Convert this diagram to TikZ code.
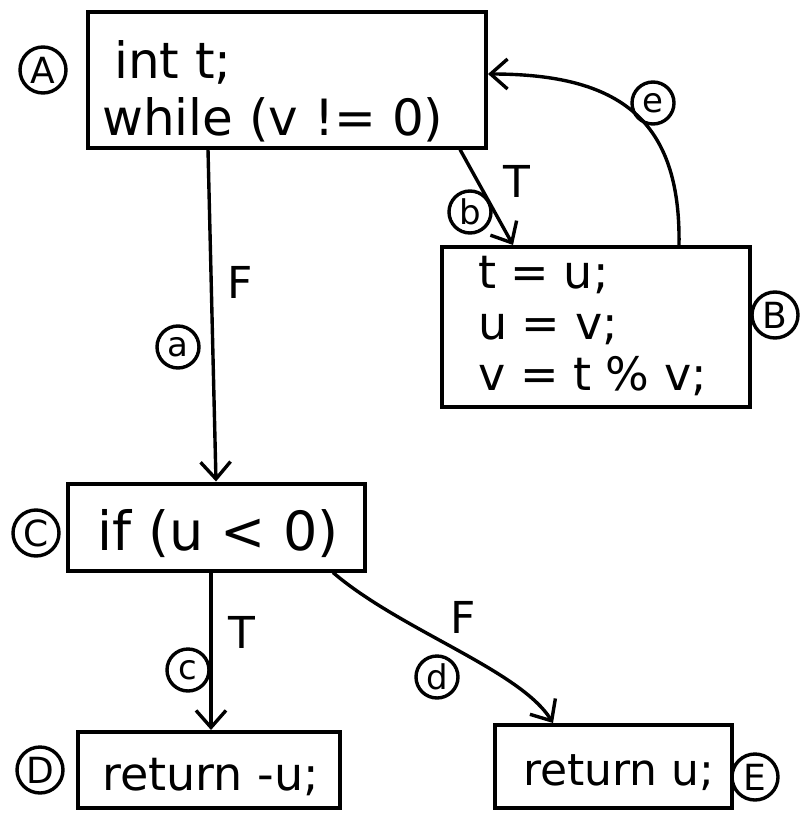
\documentclass[tikz,border=0pt]{standalone}
\usepackage{fontspec}
\setmainfont{DejaVu Sans}
\usetikzlibrary{arrows.meta}
\begin{document}
\begin{tikzpicture}[x=1pt,y=-1pt]
\tikzset{
  box/.style={draw, line width=4pt, rectangle, inner sep=0pt},
  code/.style={inner sep=0pt, anchor=base west},
  bigtag/.style={draw, circle, line width=3.4pt, minimum size=46pt, inner sep=0pt, font=\fontsize{36}{36}\selectfont},
  smalltag/.style={draw, circle, line width=3.4pt, minimum size=42pt, inner sep=0pt, font=\fontsize{34}{34}\selectfont},
  cond/.style={inner sep=0pt, font=\fontsize{44}{44}\selectfont},
  flow/.style={line width=3.4pt, -{Straight Barb[length=17pt,width=30pt]}}
}
\useasboundingbox (0,0) rectangle (804,816);
% boxes
\node[box, minimum width=398pt, minimum height=135pt] (A) at (287,80) {};
\node[box, minimum width=308pt, minimum height=160pt] (B) at (596,327) {};
\node[box, minimum width=297pt, minimum height=87pt] (C) at (216,527) {};
\node[box, minimum width=262pt, minimum height=76pt] (D) at (209,770) {};
\node[box, minimum width=237pt, minimum height=83pt] (E) at (613.5,766.5) {};
% code texts
\node[code, font=\fontsize{50}{50}\selectfont] (A1) at (114,78) {int t;};
\node[code, font=\fontsize{50}{50}\selectfont] (A2) at (102,135) {while (v != 0)};
\node[code, font=\fontsize{46}{46}\selectfont] (B1) at (478,288) {t = u;};
\node[code, font=\fontsize{46}{46}\selectfont] (B2) at (478,339) {u = v;};
\node[code, font=\fontsize{46}{46}\selectfont] (B3) at (478,390) {v = t \% v;};
\node[code, font=\fontsize{54}{54}\selectfont] (C1) at (97,550) {if (u < 0)};
\node[code, font=\fontsize{46}{46}\selectfont] (D1) at (102,790) {return -u;};
\node[code, font=\fontsize{44}{44}\selectfont] (E1) at (523,785) {return u;};
% block tags
\node[bigtag] (tA) at (43,70) {A};
\node[bigtag] (tB) at (775,315) {B};
\node[bigtag] (tC) at (36,533) {C};
\node[bigtag] (tD) at (40,770) {D};
\node[bigtag] (tE) at (755,777) {E};
% helper coordinates
\coordinate (pa1) at (208,0);
\coordinate (pa2) at (216,0);
\coordinate (pb1) at (460,0);
\coordinate (pb2) at (513,0);
\coordinate (pe1) at (679,0);
\coordinate (pe2) at (0,74);
\coordinate (pc1) at (211,0);
\coordinate (pd1) at (333,0);
\coordinate (pd2) at (553,0);
% edges
\draw[flow] (A.south -| pa1) -- (C.north -| pa2);
\draw[flow] (A.south -| pb1) -- (B.north -| pb2);
\draw[flow] (B.north -| pe1) .. controls (681,120) and (620,74) .. (A.east |- pe2);
\draw[flow] (C.south -| pc1) -- (D.north -| pc1);
\draw[flow] (C.south -| pd1) .. controls (400,630) and (520,670) .. (E.north -| pd2);
% edge tags
\node[smalltag] (ta) at (178,347) {a};
\node[smalltag] (tb) at (470,212) {b};
\node[smalltag] (tc) at (188,670) {c};
\node[smalltag] (td) at (437,677) {d};
\node[smalltag] (te) at (653,103) {e};
% condition labels
\node[cond] (Fa) at (240,282) {F};
\node[cond] (Tb) at (517,181) {T};
\node[cond] (Tc) at (242,632) {T};
\node[cond] (Fd) at (463,617) {F};
\end{tikzpicture}
\end{document}
